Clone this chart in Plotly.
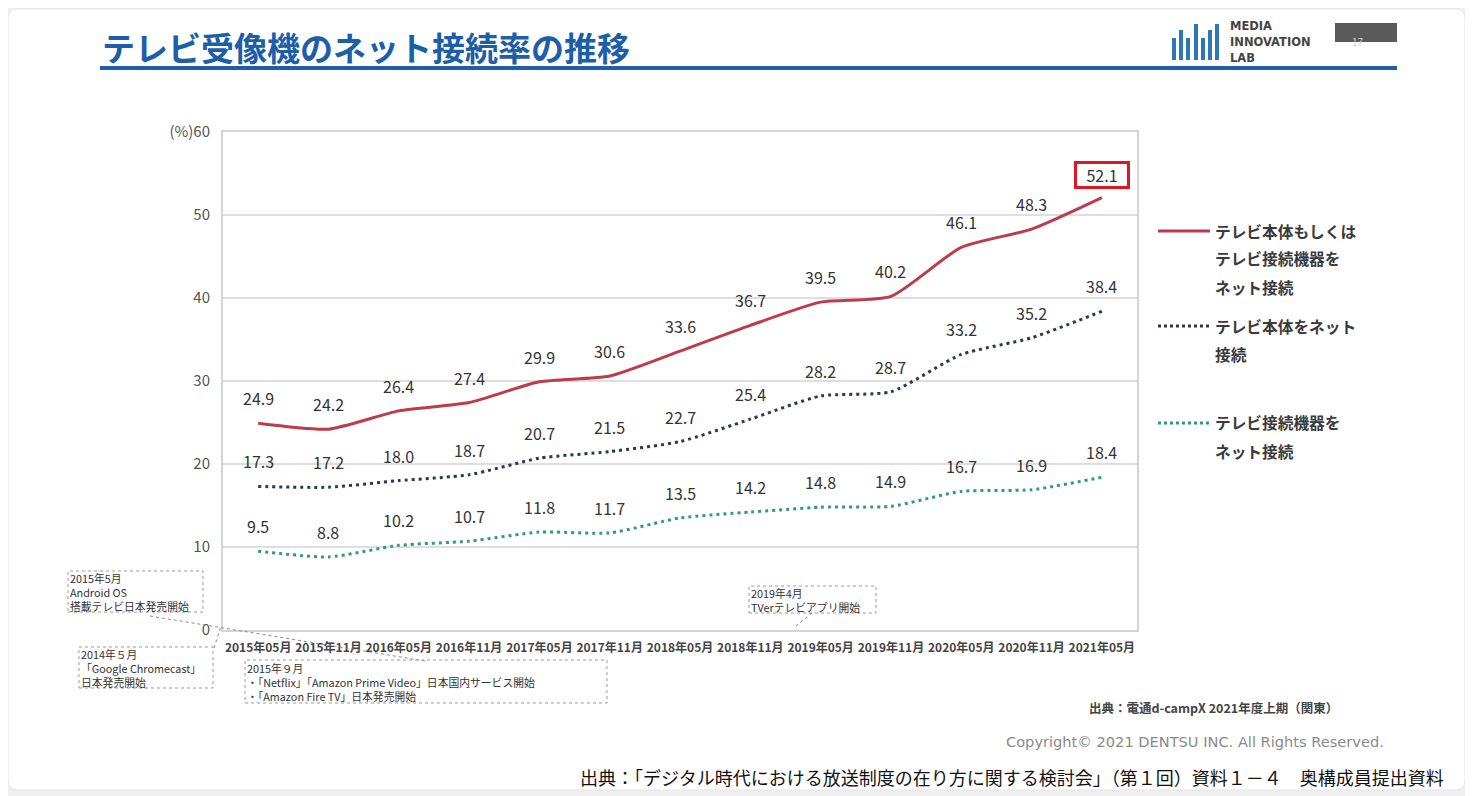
import plotly.graph_objects as go

W, H = 1473, 796

# ---------------- data ----------------
periods = ["2015年05月", "2015年11月", "2016年05月", "2016年11月", "2017年05月", "2017年11月",
           "2018年05月", "2018年11月", "2019年05月", "2019年11月", "2020年05月", "2020年11月", "2021年05月"]
tv_or_device = [24.9, 24.2, 26.4, 27.4, 29.9, 30.6, 33.6, 36.7, 39.5, 40.2, 46.1, 48.3, 52.1]
tv_itself = [17.3, 17.2, 18.0, 18.7, 20.7, 21.5, 22.7, 25.4, 28.2, 28.7, 33.2, 35.2, 38.4]
device_only = [9.5, 8.8, 10.2, 10.7, 11.8, 11.7, 13.5, 14.2, 14.8, 14.9, 16.7, 16.9, 18.4]
y_ticks = [0, 10, 20, 30, 40, 50, 60]
y_ticktext = ["0", "10", "20", "30", "40", "50", "(%)60"]
series_names = [["テレビ本体もしくは", "テレビ接続機器を", "ネット接続"],
                ["テレビ本体をネット", "接続"],
                ["テレビ接続機器を", "ネット接続"]]

RED = "#bd3b4b"
NAVY = "#2f3552"
GREEN = "#2f9c78"
FONT = "Noto Sans CJK JP"

OFF = 8  # page body margin offset


def px(x):
    return (x - OFF) / W


def py(y):
    return 1 - (y - OFF) / H


fig = go.Figure()

series = [(tv_or_device, RED, "solid"), (tv_itself, NAVY, "3px,4px"), (device_only, GREEN, "3px,4px")]
for vals, col, dash in series:
    fig.add_trace(go.Scatter(
        x=periods, y=vals, mode="lines",
        line=dict(color=col, width=3, dash=dash, shape="spline", smoothing=0.6),
        hoverinfo="skip", showlegend=False))

annotations = []
shapes = []

# data labels
for vals in (tv_or_device, tv_itself, device_only):
    for i, (cat, v) in enumerate(zip(periods, vals)):
        is_last_red = (vals is tv_or_device and i == len(vals) - 1)
        a = dict(x=cat, y=v, xref="x", yref="y", text=f"{v:.1f}", showarrow=False,
                 yshift=25, font=dict(family=FONT, size=16, color="#333333"))
        if is_last_red:
            a.update(yshift=23, bordercolor="#e5141e", borderwidth=3, borderpad=2,
                     bgcolor="white", width=46, height=18)
        annotations.append(a)

# background card (rounded rectangle)
r = 10
x0, y0, x1, y1 = 8, 9, 1465, 790
raw = [("M", (x0 + r, y0)), ("L", (x1 - r, y0)), ("Q", (x1, y0), (x1, y0 + r)), ("L", (x1, y1 - r)),
       ("Q", (x1, y1), (x1 - r, y1)), ("L", (x0 + r, y1)), ("Q", (x0, y1), (x0, y1 - r)),
       ("L", (x0, y0 + r)), ("Q", (x0, y0), (x0 + r, y0))]
parts = []
for seg in raw:
    parts.append(seg[0] + " " + " ".join(f"{px(p[0]):.5f},{py(p[1]):.5f}" for p in seg[1:]))
shapes.append(dict(type="path", xref="paper", yref="paper", path=" ".join(parts) + " Z",
                   fillcolor="white", line=dict(color="#e6e6e6", width=1), layer="below"))

# title
annotations.append(dict(x=px(100), y=py(47), xref="paper", yref="paper", xanchor="left", yanchor="middle",
                        text="<b>テレビ受像機のネット接続率の推移</b>", showarrow=False,
                        font=dict(family=FONT, size=33, color="#1d5ea8")))
shapes.append(dict(type="line", xref="paper", yref="paper", x0=px(100), x1=px(1397), y0=py(68), y1=py(68),
                   line=dict(color="#1d5ea8", width=4)))

# logo bars
bar_x = [1172, 1179, 1186, 1194, 1201, 1208, 1215]
bar_top = [38, 30, 38, 24, 38, 30, 24]
for bx, bt in zip(bar_x, bar_top):
    shapes.append(dict(type="rect", xref="paper", yref="paper", x0=px(bx), x1=px(bx + 4),
                       y0=py(60), y1=py(bt), fillcolor="#2a78b8", line=dict(width=0)))
for i, t in enumerate(["MEDIA", "INNOVATION", "LAB"]):
    annotations.append(dict(x=px(1228), y=py(26 + i * 16), xref="paper", yref="paper", xanchor="left",
                            yanchor="middle", text=f"<b>{t}</b>", showarrow=False, height=14,
                            font=dict(family="DejaVu Sans", size=11.5, color="#444444")))
shapes.append(dict(type="rect", xref="paper", yref="paper", x0=px(1335), x1=px(1397), y0=py(42), y1=py(23),
                   fillcolor="#5a5a5a", line=dict(width=0)))
annotations.append(dict(x=px(1366), y=py(32), xref="paper", yref="paper", text="17", showarrow=False,
                        font=dict(family=FONT, size=10, color="#cfcfcf")))

# legend
leg_y = [231, 326, 423]
for (vals, col, dash), names, ly in zip(series, series_names, leg_y):
    shapes.append(dict(type="line", xref="paper", yref="paper", x0=px(1158), x1=px(1210),
                       y0=py(ly), y1=py(ly), line=dict(color=col, width=3,
                                                          dash=("solid" if dash == "solid" else "dot"))))
    for j, nm in enumerate(names):
        annotations.append(dict(x=px(1213), y=py(ly + 28 * j), xref="paper", yref="paper", xanchor="left",
                                yanchor="middle", text=f"<b>{nm}</b>", showarrow=False,
                                font=dict(family=FONT, size=15.7, color="#3a3a3a")))

# event annotation boxes
boxes = [
    (68, 571, 203, 612, ["2015年5月", "Android OS", "搭載テレビ日本発売開始"]),
    (79, 647, 213, 688, ["2014年５月", "「Google Chromecast」", "日本発売開始"]),
    (245, 660, 607, 703, ["2015年９月", "・「Netflix」「Amazon Prime Video」日本国内サービス開始",
                          "・「Amazon Fire TV」日本発売開始"]),
    (749, 586, 876, 613, ["2019年4月", "TVerテレビアプリ開始"]),
]
for bx0, by0, bx1, by1, lines in boxes:
    shapes.append(dict(type="rect", xref="paper", yref="paper", x0=px(bx0), x1=px(bx1), y0=py(by1), y1=py(by0),
                       line=dict(color="#9a9a9a", width=1, dash="dot"), fillcolor="rgba(0,0,0,0)"))
    annotations.append(dict(x=px(bx0 + 1), y=py((by0 + by1) / 2), xref="paper", yref="paper",
                            xanchor="left", yanchor="middle", align="left", text="<br>".join(lines),
                            showarrow=False, borderpad=0,
                            font=dict(family=FONT, size=10.8, color="#333333")))

leaders = [(150, 616, 425, 661), (214, 648, 221, 626), (812, 613, 796, 626)]
for lx0, ly0, lx1, ly1 in leaders:
    shapes.append(dict(type="line", xref="paper", yref="paper", x0=px(lx0), y0=py(ly0), x1=px(lx1), y1=py(ly1),
                       line=dict(color="#8a8a8a", width=1, dash="dot")))

# footer texts
annotations.append(dict(x=px(1340), y=py(707), xref="paper", yref="paper", xanchor="right", yanchor="middle",
                        text="<b>出典：電通d-campX 2021年度上期（関東）</b>", showarrow=False,
                        font=dict(family=FONT, size=12.5, color="#444444")))
annotations.append(dict(x=px(1386), y=py(741), xref="paper", yref="paper", xanchor="right", yanchor="middle",
                        text="Copyright© 2021 DENTSU INC. All Rights Reserved.", showarrow=False,
                        font=dict(family="DejaVu Sans", size=14.6, color="#8a8a8a")))
annotations.append(dict(x=px(1446), y=py(777), xref="paper", yref="paper", xanchor="right", yanchor="middle",
                        text="出典：「デジタル時代における放送制度の在り方に関する検討会」（第１回）資料１－４　奥構成員提出資料",
                        showarrow=False, font=dict(family=FONT, size=18, color="#111111")))

fig.update_layout(
    template="none",
    width=W, height=H, autosize=False,
    margin=dict(l=0, r=0, t=0, b=0, pad=0),
    paper_bgcolor="#efefef",
    plot_bgcolor="white",
    showlegend=False,
    shapes=shapes,
    annotations=annotations,
    xaxis=dict(domain=[px(223), px(1137)], type="category", categoryorder="array", categoryarray=periods,
               range=[-0.5, len(periods) - 0.5], showgrid=False, showline=True, linecolor="#d4d4d4",
               linewidth=2, mirror=True, ticks="", tickangle=0, automargin=False,
               tickfont=dict(family=FONT, size=12, color="#444444", weight="bold"), ticklabelstandoff=6,
               fixedrange=True),
    yaxis=dict(domain=[py(630), py(132)], range=[0, 60], tickvals=y_ticks, ticktext=y_ticktext,
               showgrid=True, gridcolor="#dedede", gridwidth=1.5, showline=True, linecolor="#d4d4d4",
               linewidth=2, mirror=True, zeroline=False, ticks="", automargin=False,
               tickfont=dict(family=FONT, size=15, color="#555555"), ticklabelstandoff=8, fixedrange=True),
)

fig.write_html("out.html")
